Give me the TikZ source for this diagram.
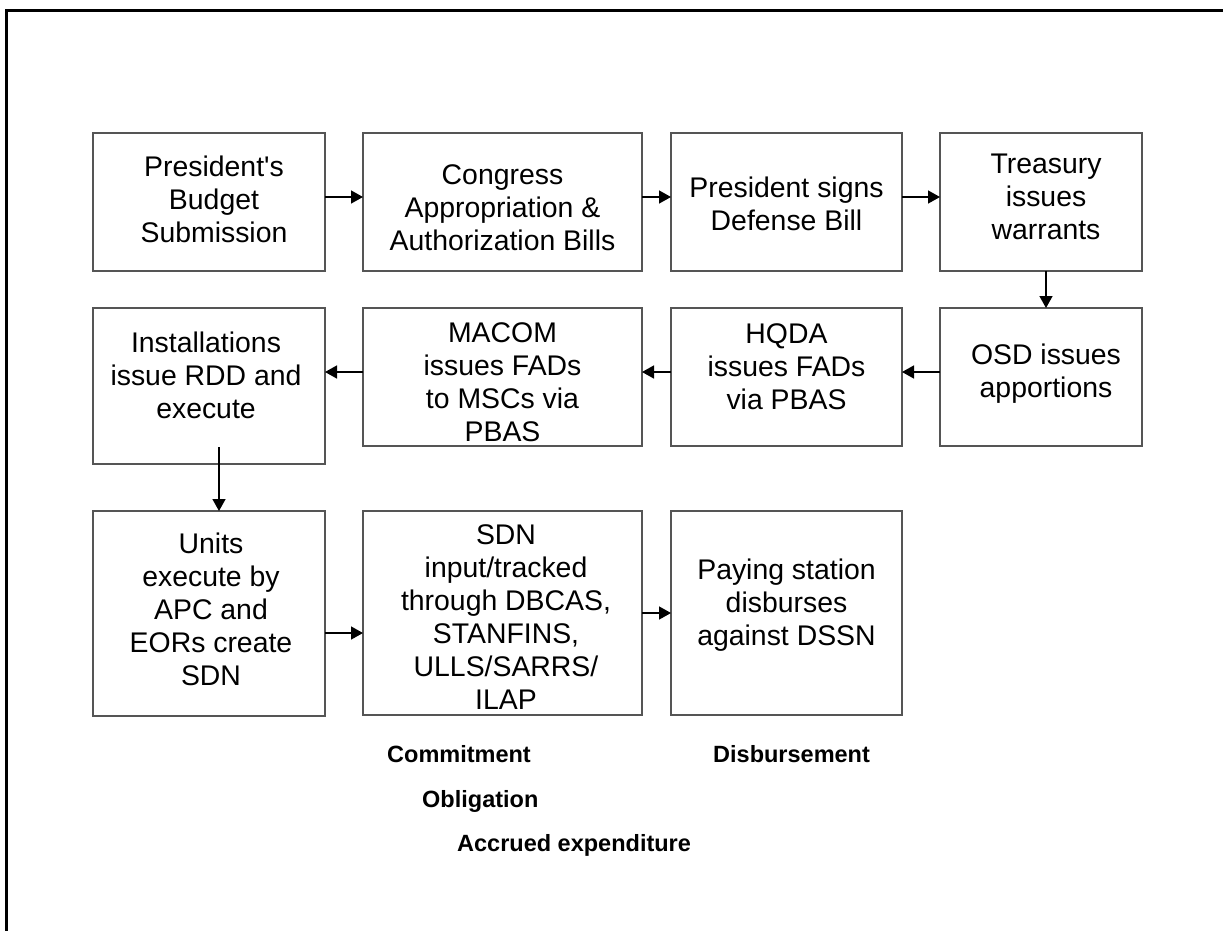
\documentclass[tikz,border=0pt]{standalone}
\usepackage{fontspec}
\setmainfont{Liberation Sans}
\newfontfamily\apfont{Liberation Sans}[Ligatures=TeXOff]
\usetikzlibrary{arrows.meta}
\begin{document}
\begin{tikzpicture}[x=1pt,y=-1pt,
  box/.style={draw={rgb,255:red,85;green,85;blue,85}, line width=1.8pt, rectangle, inner sep=0pt, outer sep=0pt, minimum height=138pt},
  txt/.style={align=center, inner sep=0pt, font=\fontsize{28.4}{33}\selectfont},
  lbl/.style={anchor=base west, inner sep=0pt, font=\fontsize{23.5}{28}\selectfont\bfseries},
  arr/.style={line width=1.5pt, -{Triangle[length=12pt,width=13pt]}},
  frame/.style={line width=3pt, line join=miter}]
\useasboundingbox (0,0) rectangle (1223,930);
% outer frame (top and left only)
\coordinate (fa) at (1225,10);
\coordinate (fb) at (6,10);
\coordinate (fc) at (6,932);
\draw[frame] (fa) -- (fb) -- (fc);
% row 1
\node[box, minimum width=232pt] (b1) at (209,202) {};
\node[box, minimum width=279pt] (b2) at (502.5,202) {};
\node[box, minimum width=231pt] (b3) at (786.5,202) {};
\node[box, minimum width=202pt] (b4) at (1041,202) {};
\node[txt] (t1) at (214,199) {President{\apfont'}s\\Budget\\Submission};
\node[txt] (t2) at (502.5,208) {Congress\\Appropriation \&\\Authorization Bills};
\node[txt] (t3) at (786.5,204) {President signs\\Defense Bill};
\node[txt] (t4) at (1046,197) {Treasury\\issues\\warrants};
% row 2
\node[box, minimum width=232pt, minimum height=156pt] (b5) at (209,386) {};
\node[box, minimum width=279pt] (b6) at (502.5,377) {};
\node[box, minimum width=231pt] (b7) at (786.5,377) {};
\node[box, minimum width=202pt] (b8) at (1041,377) {};
\node[txt] (t5) at (206,375) {Installations\\issue RDD and\\execute};
\node[txt] (t6) at (502.5,382) {MACOM\\issues FADs\\to MSCs via\\PBAS};
\node[txt] (t7) at (786.5,367) {HQDA\\issues FADs\\via PBAS};
\node[txt] (t8) at (1046,374) {OSD issues\\apportions};
% row 3
\node[box, minimum width=232pt, minimum height=205pt] (b9) at (209,613.5) {};
\node[box, minimum width=279pt, minimum height=204pt] (b10) at (502.5,613) {};
\node[box, minimum width=231pt, minimum height=204pt] (b11) at (786.5,613) {};
\node[txt] (t9) at (211,609) {Units\\execute by\\APC and\\EORs create\\SDN};
\node[txt] (t10) at (506,617) {SDN\\input/tracked\\through DBCAS,\\STANFINS,\\ULLS/SARRS/\\ILAP};
\node[txt] (t11) at (786.5,605) {Paying station\\disburses\\against DSSN};
% labels
\node[lbl] (l1) at (387,762) {Commitment};
\node[lbl] (l2) at (713,762) {Disbursement};
\node[lbl] (l3) at (422,807) {Obligation};
\node[lbl] (l4) at (457,851) {Accrued expenditure};
% connector helper coordinates
\coordinate (ya) at (0,197);
\coordinate (yb) at (0,372);
\coordinate (yc) at (0,633);
\coordinate (yd) at (0,613);
\coordinate (xa) at (1046,0);
\coordinate (s1) at (219,447);
% connectors
\draw[arr] (b1.east |- ya) -- (b2.west |- ya);
\draw[arr] (b2.east |- ya) -- (b3.west |- ya);
\draw[arr] (b3.east |- ya) -- (b4.west |- ya);
\draw[arr] (b4.south -| xa) -- (b8.north -| xa);
\draw[arr] (b8.west |- yb) -- (b7.east |- yb);
\draw[arr] (b7.west |- yb) -- (b6.east |- yb);
\draw[arr] (b6.west |- yb) -- (b5.east |- yb);
\draw[arr] (s1) -- (b9.north -| s1);
\draw[arr] (b9.east |- yc) -- (b10.west |- yc);
\draw[arr] (b10.east |- yd) -- (b11.west |- yd);
\end{tikzpicture}
\end{document}
